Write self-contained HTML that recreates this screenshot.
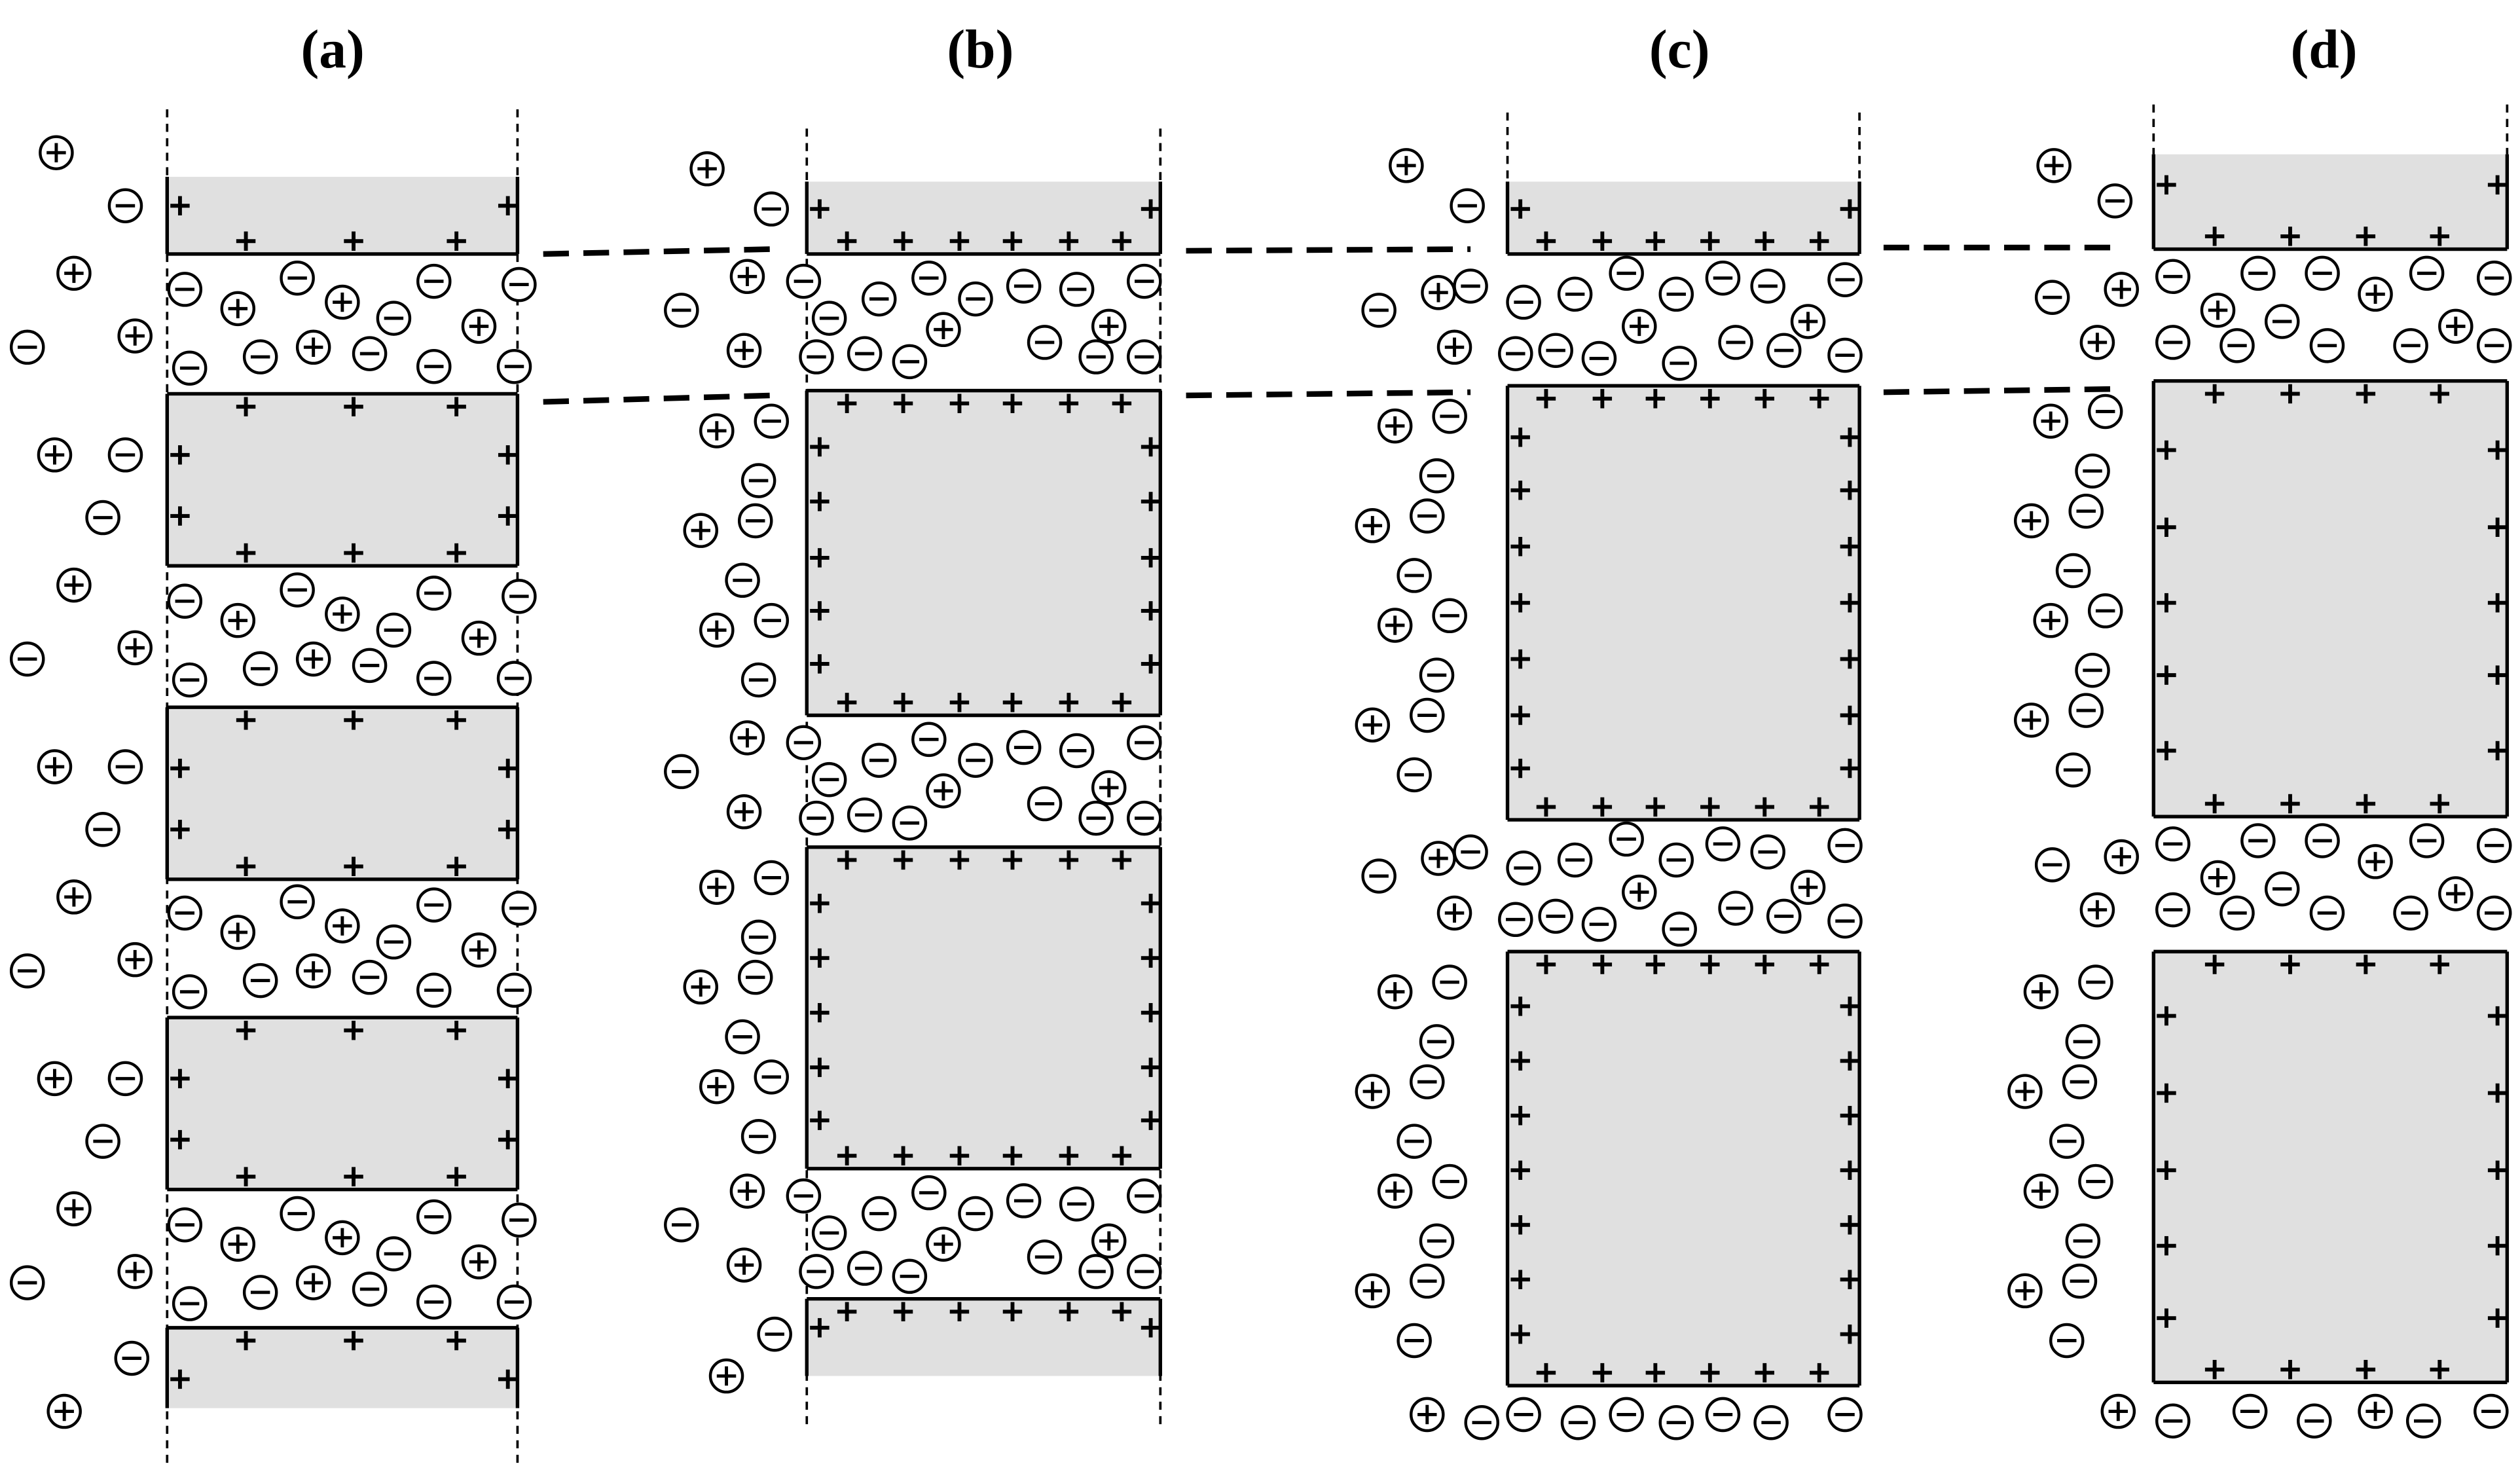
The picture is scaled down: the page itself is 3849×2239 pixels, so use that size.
<!DOCTYPE html>
<html><head><meta charset="utf-8">
<style>
html,body{margin:0;padding:0;background:#fff;}
svg{display:block;}
</style></head>
<body>
<svg id="s" width="3849" height="2239" viewBox="0 0 1568 912" preserveAspectRatio="none" xmlns="http://www.w3.org/2000/svg">
<rect width="1568" height="912" fill="#fff"/>
<g font-family="Liberation Serif, serif" font-weight="bold" font-size="34" text-anchor="middle">
<text x="207" y="42">(a)</text>
<text x="610" y="42">(b)</text>
<text x="1045" y="42">(c)</text>
<text x="1446" y="42">(d)</text>
</g>
<g id="g"></g>
</svg>
<script>
var g=document.getElementById('g'),out='';
function L(x1,y1,x2,y2,w,d){out+='<line x1="'+x1+'" y1="'+y1+'" x2="'+x2+'" y2="'+y2+'" stroke="#000" stroke-width="'+(w||2)+'"'+(d?' stroke-dasharray="'+d+'"':'')+'/>';}
function P(x,y){L(x-6,y,x+6,y,2.4);L(x,y-6,x,y+6,2.4);}
function I(x,y,p){out+='<circle cx="'+x+'" cy="'+y+'" r="10" fill="#fff" stroke="#000" stroke-width="1.8"/>';L(x-6,y,x+6,y,2);if(p)L(x,y-6,x,y+6,2);}
function B(x1,x2,y1,y2,ot,ob,xs,ys){
 out+='<rect x="'+x1+'" y="'+y1+'" width="'+(x2-x1)+'" height="'+(y2-y1)+'" fill="#e0e0e0"/>';
 if(!ot)L(x1,y1,x2,y1,2.2); if(!ob)L(x1,y2,x2,y2,2.2);
 L(x1,y1,x1,y2,2.2);L(x2,y1,x2,y2,2.2);
 xs.forEach(function(x){if(!ot)P(x,y1+8);if(!ob)P(x,y2-8);});
 ys.forEach(function(y){P(x1+8,y);P(x2-6,y);});
}
L(104,68,104,910,1.5,'5,4');L(322,68,322,910,1.5,'5,4');
L(502,80,502,890,1.5,'5,4');L(722,80,722,890,1.5,'5,4');
L(938,70,938,113,1.5,'5,4');L(1157,70,1157,113,1.5,'5,4');
L(1340,65,1340,96,1.5,'5,4');L(1560,65,1560,96,1.5,'5,4');
[[338,158,480,155],[738,156,915,155],[1172,154,1315,154],[338,250,480,246],[738,246,915,244],[1172,244,1315,242]].forEach(function(a){L(a[0],a[1],a[2],a[3],3.5,'16,9');});
// panel a
var ax=[153,220,284];
B(104,322,110,158,true,false,ax,[128]);
[245,440,633].forEach(function(t){B(104,322,t,t+107,false,false,ax,[t+38,t+76]);});
B(104,322,826,876,false,true,ax,[858]);
var gn=[[115,22],[185,15],[270,17],[323,19],[118,71],[162,64],[230,62],[270,70],[320,70],[245,40]],gp=[[148,34],[213,30],[298,45],[195,58]];
[158,352,546,740].forEach(function(t){gn.forEach(function(a){I(a[0],t+a[1],0)});gp.forEach(function(a){I(a[0],t+a[1],1)});});
I(35,95,1);I(78,128,0);
[0,194,388,582].forEach(function(o){I(46,170+o,1);I(17,216+o,0);I(84,209+o,1);if(o<582){I(34,283+o,1);I(78,283+o,0);I(64,322+o,0);}});
I(82,845,0);I(40,878,1);
// left column: rows every ~31; alternating pair / single
function col(t,h,xa,shift){
 var i=0;
 for(var y=t+25;y<t+h-5;y+=31,i++){
  var s=(Math.floor(i/2)%2)?shift:0;
  if(i%2==0){I(xa+s,y,1);I(xa+34+s,y-6,0);}
  else{I(xa+26+s,y,0);}
 }
}
// panel b
var bx=[527,562,597,630,665,698];
B(502,722,113,158,true,false,bx,[130]);
B(502,722,243,445,false,false,bx,[278,312,347,380,413]);
B(502,722,527,727,false,false,bx,[562,596,630,664,697]);
B(502,722,808,856,false,true,bx,[826]);
var hn=[[500,17],[516,40],[547,28],[578,15],[607,28],[637,20],[670,22],[712,17],[508,64],[538,62],[566,67],[650,55],[682,64],[712,64]],hp=[[587,47],[690,45],[465,14]];
[158,445,727].forEach(function(t){hn.forEach(function(a){I(a[0],t+a[1],0)});hp.forEach(function(a){I(a[0],t+a[1],1)});I(424,t+35,0);I(463,t+60,1);});
I(440,105,1);I(480,130,0);
col(243,205,446,-10);col(527,205,446,-10);
I(482,830,0);I(452,856,1);
// panel c
var cx=[962,997,1030,1064,1098,1132];
B(938,1157,113,158,true,false,cx,[130]);
B(938,1157,240,510,false,false,cx,[272,305,340,375,410,445,478]);
B(938,1157,592,862,false,false,cx,[626,660,694,728,762,796,830]);
var cn=[[948,30],[980,25],[1012,12],[1043,25],[1072,15],[1100,20],[1148,16],[943,62],[968,60],[995,65],[1045,68],[1080,55],[1110,60],[1148,63],[915,20]],cp=[[1020,45],[1125,42],[895,24],[905,58]];
[158,510].forEach(function(t){cn.forEach(function(a){I(a[0],t+a[1],0)});cp.forEach(function(a){I(a[0],t+a[1],1)});I(858,t+35,0);});
I(875,103,1);I(913,128,0);
col(240,275,868,-14);col(592,275,868,-14);
[[888,1],[922,0],[948,0],[982,0],[1012,0],[1043,0],[1072,0],[1102,0],[1148,0]].forEach(function(a,i){I(a[0],880+(i%2)*5,a[1]);});
// panel d
var dx=[1378,1425,1472,1518];
B(1340,1560,96,155,true,false,dx,[115]);
B(1340,1560,237,508,false,false,dx,[280,328,375,420,467]);
B(1340,1560,592,860,false,false,dx,[632,680,728,775,820]);
var dn=[[1352,17],[1405,15],[1420,45],[1445,15],[1448,60],[1500,60],[1510,15],[1552,18],[1352,58],[1392,60],[1552,60]],dp=[[1380,38],[1478,28],[1528,48],[1320,25],[1305,58]];
[155,508].forEach(function(t){dn.forEach(function(a){I(a[0],t+a[1],0)});dp.forEach(function(a){I(a[0],t+a[1],1)});I(1277,t+30,0);});
I(1278,103,1);I(1316,125,0);
col(237,275,1276,-12);col(592,275,1270,-10);
[[1318,1],[1352,0],[1400,0],[1440,0],[1478,1],[1508,0],[1550,0]].forEach(function(a,i){I(a[0],878+(i%2)*6,a[1]);});
g.innerHTML=out;
</script>
</body></html>
